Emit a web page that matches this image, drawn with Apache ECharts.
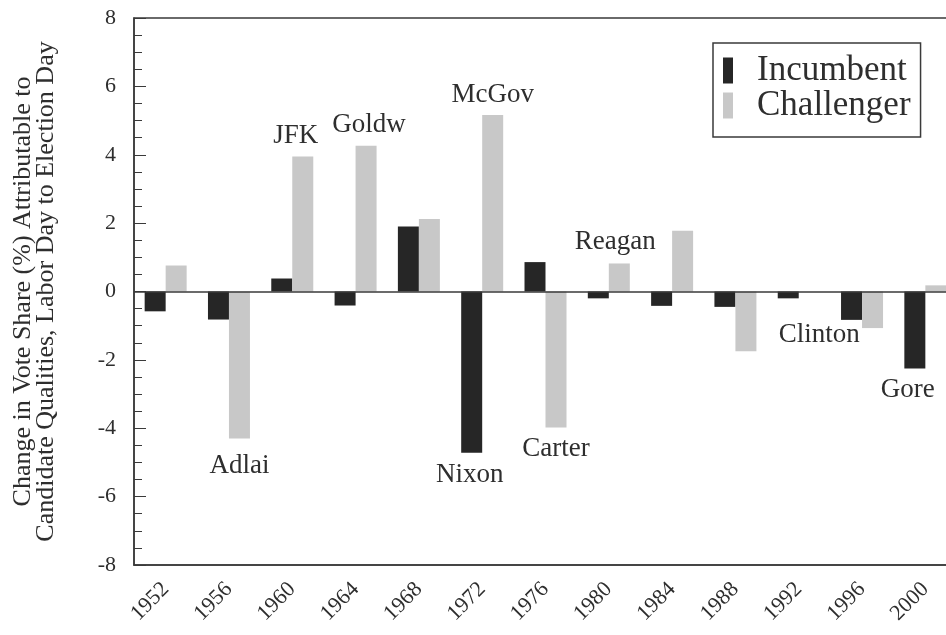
<!DOCTYPE html>
<html>
<head>
<meta charset="utf-8">
<script src="https://cdn.jsdelivr.net/npm/echarts@6/dist/echarts.min.js"></script>
<style>
  html, body { margin: 0; padding: 0; background: #ffffff; overflow: hidden; }
  #chart { width: 960px; height: 635px; }
</style>
</head>
<body>
<div id="chart"></div>
<script>
// ---- data ----
const years = ['1952','1956','1960','1964','1968','1972','1976','1980','1984','1988','1992','1996','2000'];
const incumbent  = [-0.58, -0.82, 0.38, -0.41, 1.9, -4.72, 0.86, -0.2, -0.42, -0.45, -0.2, -0.83, -2.25];
const challenger = [0.76, -4.3, 3.95, 4.26, 2.12, 5.16, -3.98, 0.82, 1.78, -1.75, 0.0, -1.07, 0.18];
const incumbentNames  = ['', '', '', '', '', 'Nixon', '', '', '', '', '', '', 'Gore'];
const challengerNames = ['', 'Adlai', 'JFK', 'Goldw', '', 'McGov', 'Carter', 'Reagan', '', '', 'Clinton', '', ''];
const yTicks = [-8, -6, -4, -2, 0, 2, 4, 6, 8];
const seriesNames = ['Incumbent', 'Challenger'];
const yTitle = 'Change in Vote Share (%) Attributable to\nCandidate Qualities, Labor Day to Election Day';

// ---- label placement tweaks (style only) ----
const labelTweaks = {
  'Nixon':   { distance: 9,  dx: -2 },
  'Gore':    { distance: 8,  dx: -7 },
  'Adlai':   { distance: 14, dx: 0 },
  'JFK':     { distance: 7,  dx: -7 },
  'Goldw':   { distance: 7,  dx: 3 },
  'McGov':   { distance: 7,  dx: 0 },
  'Carter':  { distance: 8,  dx: 0 },
  'Reagan':  { distance: 8,  dx: -4 },
  'Clinton': { distance: 30, dx: 10 }
};

const FONT = "'Liberation Serif', 'Times New Roman', serif";
const TXT = '#2e2e2e';

function buildData(values, names) {
  return values.map((v, i) => {
    const n = names[i];
    if (!n) return { value: v };
    const t = labelTweaks[n] || { distance: 8, dx: 0 };
    return {
      value: v,
      label: {
        show: true,
        formatter: n,
        position: v > 0 ? 'top' : 'bottom',
        distance: t.distance,
        offset: [t.dx, 0],
        fontFamily: FONT,
        fontSize: 27,
        color: TXT
      }
    };
  });
}

const chart = echarts.init(document.getElementById('chart'), null, { renderer: 'canvas' });
chart.setOption({
  animation: false,
  backgroundColor: '#ffffff',
  textStyle: { fontFamily: FONT, color: TXT },
  grid: {
    left: 134, right: 3, top: 18, bottom: 70,
    show: true, borderColor: '#3a3a3a', borderWidth: 1.5, backgroundColor: 'transparent'
  },
  legend: {
    orient: 'vertical',
    left: 713, top: 43,
    data: seriesNames,
    icon: 'rect',
    itemWidth: 10, itemHeight: 26,
    itemGap: 0,
    padding: [10, 10, 14, 10],
    borderColor: '#3a3a3a', borderWidth: 1.5,
    textStyle: { fontFamily: FONT, fontSize: 35, color: TXT, lineHeight: 34, padding: [0, 0, 0, 19] }
  },
  xAxis: {
    type: 'category',
    data: years,
    axisLine: { onZero: false, lineStyle: { color: '#3a3a3a', width: 1.5 } },
    axisTick: { show: false },
    axisLabel: { rotate: 45, fontSize: 22, margin: 21, color: TXT, fontFamily: FONT, interval: 0 },
    splitLine: { show: false }
  },
  yAxis: {
    type: 'value',
    min: yTicks[0], max: yTicks[yTicks.length - 1], interval: 2,
    name: yTitle,
    nameLocation: 'middle',
    nameRotate: 90,
    nameGap: 76,
    nameTextStyle: { fontFamily: FONT, fontSize: 26, color: TXT, lineHeight: 23, align: 'center' },
    axisLine: { show: true, lineStyle: { color: '#3a3a3a', width: 1.5 } },
    axisTick: { show: true, inside: true, length: 12, lineStyle: { color: '#3a3a3a', width: 1 } },
    minorTick: { show: true, splitNumber: 4, length: 8, lineStyle: { color: '#3a3a3a', width: 1 } },
    axisLabel: { fontSize: 22, margin: 18, color: TXT, fontFamily: FONT },
    splitLine: { show: false }
  },
  series: [
    {
      name: seriesNames[0],
      type: 'bar',
      data: buildData(incumbent, incumbentNames),
      barWidth: 21,
      barGap: '0%',
      itemStyle: { color: '#262626' },
      markLine: {
        silent: true,
        symbol: 'none',
        label: { show: false },
        lineStyle: { color: '#3a3a3a', width: 1.5, type: 'solid' },
        data: [{ yAxis: 0 }]
      }
    },
    {
      name: seriesNames[1],
      type: 'bar',
      data: buildData(challenger, challengerNames),
      barWidth: 21,
      barGap: '0%',
      itemStyle: { color: '#c8c8c8' }
    }
  ]
});
</script>
</body>
</html>
